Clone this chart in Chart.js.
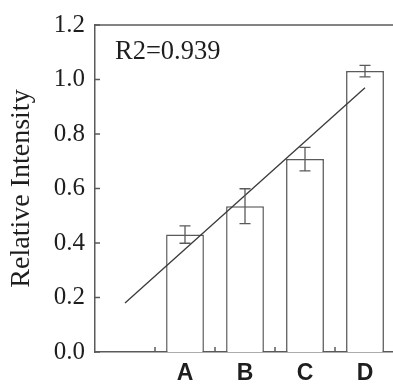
<!DOCTYPE html>
<html>
<head>
<meta charset="utf-8">
<script src="https://cdn.jsdelivr.net/npm/chart.js@4"></script>
<style>
    html, body { margin: 0; padding: 0; background: #fff; overflow: hidden; }
    #wrap { width: 398px; height: 385px; }
</style>
</head>
<body>
<div id="wrap"><canvas id="chart"></canvas></div>
<script>
const categories = ["", "A", "B", "C", "D"];
const intensity = [null, 0.431, 0.535, 0.708, 1.031];
const errors = [0, 0.032, 0.064, 0.043, 0.021];
const fitLine = [0.18, null, null, null, 0.97];
const yTicks = [0, 0.2, 0.4, 0.6, 0.8, 1.0, 1.2];
const fitLabel = "R2=0.939";

const lineColor = "#5a5a5a";
const textColor = "#1e1e1e";

// inward ticks, top frame line, error bars and R2 text
const extras = {
    id: "extras",
    afterDatasetsDraw(chart) {
        const ctx = chart.ctx;
        const area = chart.chartArea;
        const x = chart.scales.x;
        const y = chart.scales.y;

        ctx.save();
        ctx.strokeStyle = lineColor;
        ctx.lineWidth = 1.5;

        ctx.beginPath();
        ctx.moveTo(area.left, area.top);
        ctx.lineTo(area.right, area.top);
        ctx.stroke();

        yTicks.forEach(v => {
            const py = y.getPixelForValue(v);
            ctx.beginPath();
            ctx.moveTo(area.left, py);
            ctx.lineTo(area.left + 5, py);
            ctx.stroke();
        });

        for (let i = 1; i < categories.length; i++) {
            const px = (x.getPixelForValue(i - 1) + x.getPixelForValue(i)) / 2;
            ctx.beginPath();
            ctx.moveTo(px, area.bottom);
            ctx.lineTo(px, area.bottom - 5);
            ctx.stroke();
        }

        ctx.lineWidth = 1.3;
        intensity.forEach((v, i) => {
            if (v === null) return;
            const px = x.getPixelForValue(i);
            const top = y.getPixelForValue(v + errors[i]);
            const bot = y.getPixelForValue(v - errors[i]);
            ctx.beginPath();
            ctx.moveTo(px, top); ctx.lineTo(px, bot);
            ctx.moveTo(px - 5.5, top); ctx.lineTo(px + 5.5, top);
            ctx.moveTo(px - 5.5, bot); ctx.lineTo(px + 5.5, bot);
            ctx.stroke();
        });

        ctx.fillStyle = textColor;
        ctx.font = "26.5px 'Liberation Serif'";
        ctx.textBaseline = "middle";
        ctx.textAlign = "left";
        ctx.fillText(fitLabel, area.left + 20, y.getPixelForValue(1.1));
        ctx.restore();
    }
};

new Chart(document.getElementById("chart"), {
    data: {
        labels: categories,
        datasets: [
            {
                type: "bar",
                data: intensity,
                backgroundColor: "#ffffff",
                borderColor: lineColor,
                borderWidth: 1.5,
                barPercentage: 0.63,
                categoryPercentage: 1,
                order: 1
            },
            {
                type: "line",
                data: fitLine,
                spanGaps: true,
                borderColor: "#3a3a3a",
                borderWidth: 1.3,
                pointRadius: 0,
                order: 0
            }
        ]
    },
    options: {
        responsive: true,
        maintainAspectRatio: false,
        animation: false,
        layout: { padding: { top: 20, right: 3 } },
        plugins: { legend: { display: false }, tooltip: { enabled: false } },
        scales: {
            x: {
                grid: { display: false, drawTicks: false },
                border: { display: true, color: lineColor, width: 1.5 },
                ticks: {
                    color: textColor,
                    padding: 8,
                    font: { family: "'Liberation Sans'", size: 23, weight: "bold" }
                },
                afterFit: s => { s.height = 33; }
            },
            y: {
                min: 0,
                max: 1.2,
                grid: { display: false, drawTicks: false },
                border: { display: true, color: lineColor, width: 1.5 },
                afterBuildTicks: s => { s.ticks = yTicks.map(v => ({ value: v })); },
                ticks: {
                    color: textColor,
                    padding: 10,
                    font: { family: "'Liberation Serif'", size: 25 },
                    callback: v => v.toFixed(1)
                },
                title: {
                    display: true,
                    text: "Relative Intensity",
                    color: textColor,
                    padding: { top: 5, bottom: 0 },
                    font: { family: "'Liberation Serif'", size: 28 }
                },
                afterFit: s => { s.width = 95; }
            }
        }
    },
    plugins: [extras]
});
</script>
</body>
</html>
